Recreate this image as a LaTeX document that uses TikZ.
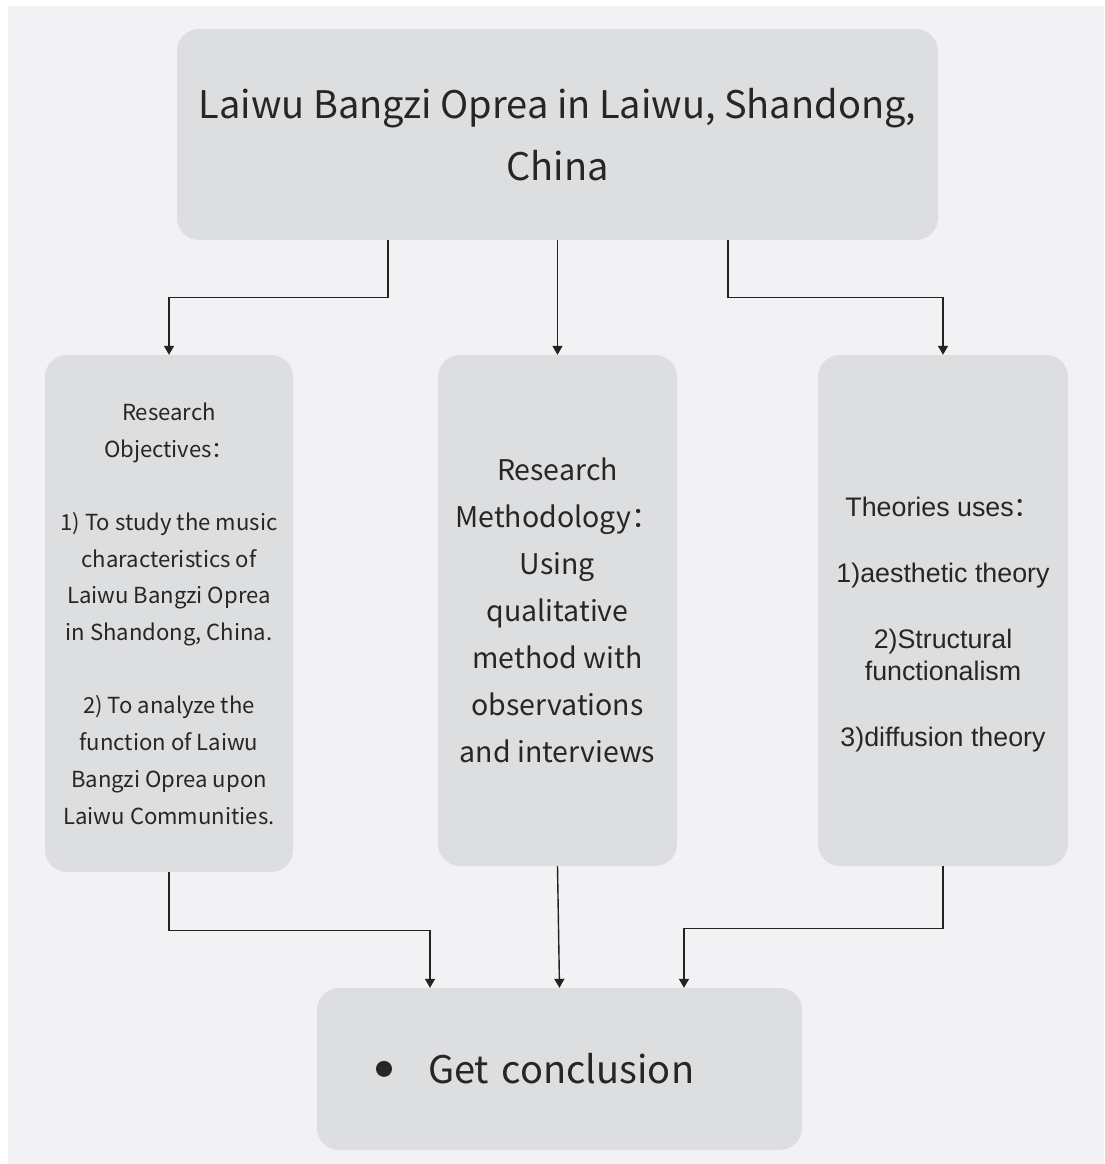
\documentclass[tikz,border=0pt]{standalone}
\usepackage{fontspec}
\setmainfont{Noto Sans CJK SC}
\newfontfamily\cjk{Noto Sans CJK SC}
\newfontfamily\arialfont{Liberation Sans}
\usetikzlibrary{arrows.meta,positioning}
\definecolor{bgcol}{HTML}{F2F2F4}
\definecolor{boxcol}{HTML}{DDDEE0}
\definecolor{txtcol}{HTML}{262626}
\definecolor{linecol}{HTML}{222222}
\tikzset{
  box/.style={fill=boxcol, rounded corners=22pt, inner sep=0pt, align=center, text=txtcol},
  arr/.style={draw=linecol, line width=1.4pt, -{Triangle[length=9pt,width=10pt]}}
}
\begin{document}
\begin{tikzpicture}[x=1pt,y=-1pt]
\useasboundingbox (0,0) rectangle (1104,1164);
\fill[bgcol] (8,6) rectangle (1104,1164);

\node[box, minimum width=761pt, minimum height=211pt, font=\fontsize{38}{62}\selectfont] (top) at (557.5,134.5)
  {Laiwu Bangzi Oprea in Laiwu, Shandong,\\China};

\node[box, minimum width=248pt, minimum height=517pt, font=\fontsize{22.1}{36.7}\selectfont] (left) at (169,613.5)
  {Research\\Objectives：\\[36.7pt]1) To study the music\\characteristics of\\Laiwu Bangzi Oprea\\in Shandong, China.\\[36.7pt]2) To analyze the\\function of Laiwu\\Bangzi Oprea upon\\Laiwu Communities.};

\node[box, minimum width=239pt, minimum height=511pt, font=\fontsize{28.5}{47}\selectfont] (mid) at (557.5,610.5)
  {Research\\Methodology：\\Using\\qualitative\\method with\\observations\\and interviews};

\node[box, minimum width=250pt, minimum height=511pt, font=\arialfont\fontsize{26.8}{32}\selectfont] (right) at (943,610.5)
  {\rule{0pt}{48pt}Theories uses{\cjk ：}\\[34pt]1)aesthetic theory\\[34pt]2)Structural\\functionalism\\[34pt]3)diffusion theory};

\node[box, minimum width=485pt, minimum height=162pt, text width=367pt, align=left, font=\fontsize{38}{50}\selectfont] (concl) at (559.5,1069)
  {\raisebox{7pt}{\tikz\fill[txtcol] (0,0) circle[radius=8pt];}\hspace{36pt}Get conclusion};

\draw[arr] ([xshift=-169.5pt]top.south) -- ++(0,57) -| (left.north);
\draw[arr] (top.south) -- (mid.north);
\draw[arr] ([xshift=170.5pt]top.south) -- ++(0,57) -| (right.north);

\draw[arr] (left.south) -- ++(0,58) -| ([xshift=-129.5pt]concl.north);
\draw[arr] (mid.south) -- (concl.north);
\draw[arr] (right.south) -- ++(0,62) -| ([xshift=124.5pt]concl.north);
\end{tikzpicture}
\end{document}
